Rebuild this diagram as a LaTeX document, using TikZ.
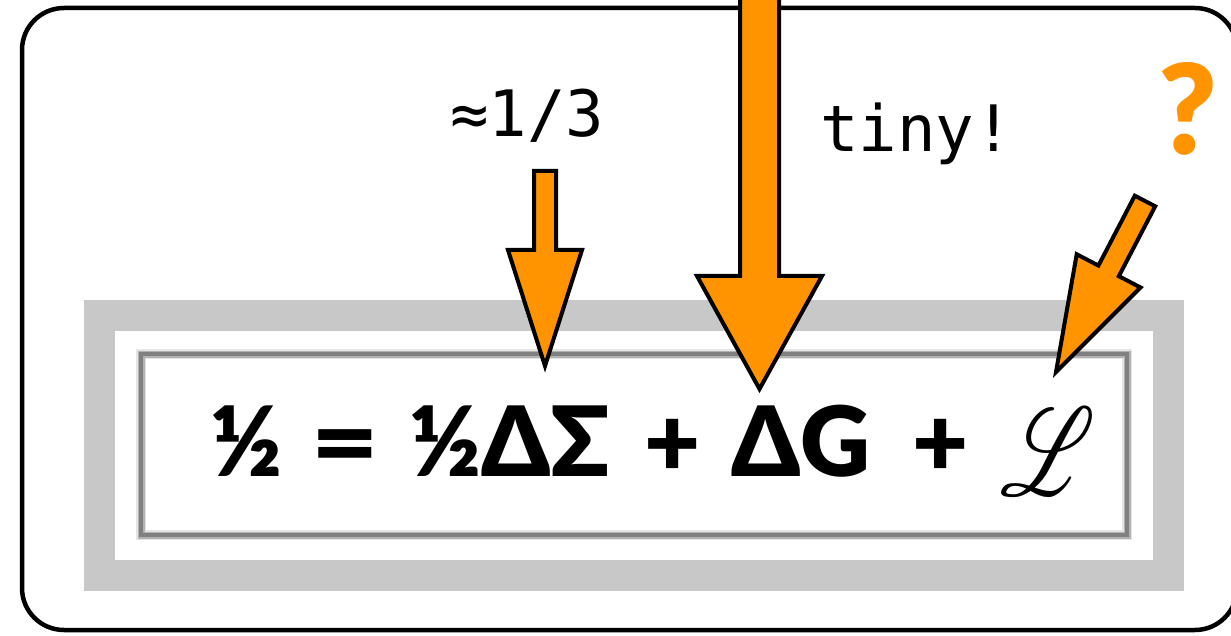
\documentclass[tikz,border=0pt]{standalone}
\usepackage{fontspec}
\usepackage{mathrsfs}
\usepackage{tikz}
\usetikzlibrary{calc}
\setmainfont{Lato}
\newfontfamily\eqfont{Lato Black}
\newfontfamily\notefont{DejaVu Sans Mono}
\definecolor{hotorange}{HTML}{FF9300}
\definecolor{framegray}{HTML}{C8C8C8}
% #1 name, #2 tail, #3 tip, #4 half shaft, #5 half head, #6 head length
\newcommand{\blockarrow}[6]{%
  \coordinate (#1-base) at ($(#3)!#6!(#2)$);
  \draw[fatarrow] ($(#2)!#4!90:(#3)$) -- ($(#1-base)!#4!90:(#3)$) -- ($(#1-base)!#5!90:(#3)$)
    -- (#3) -- ($(#1-base)!#5!-90:(#3)$) -- ($(#1-base)!#4!-90:(#3)$) -- ($(#2)!#4!-90:(#3)$) -- cycle;}
\tikzset{
  fatarrow/.style = {fill=hotorange, draw=black, line width=4pt, line join=miter},
  eqn/.style      = {font=\eqfont\fontsize{97}{100}\selectfont, inner sep=0pt, anchor=base west},
  lagr/.style     = {xscale=8.9, yscale=12.5, inner sep=0pt, anchor=base west},
  remark/.style   = {font=\notefont\fontsize{64}{70}\selectfont, inner sep=0pt, anchor=base west},
  query/.style    = {font=\eqfont\fontsize{125}{130}\selectfont, text=hotorange, inner sep=0pt, anchor=base west},
}

\begin{document}
\begin{tikzpicture}[x=1pt, y=-1pt]
  \useasboundingbox (0,0) rectangle (1231,636);
  \draw[line width=4.5pt, rounded corners=42pt] (22,8) rectangle (1237,630);
  \draw[framegray, line width=31pt] (99,315) rectangle (1168,575);
  \draw[black!10, line width=10pt] (141,354) rectangle (1127,535);
  \draw[black!30, line width=7pt] (141,354) rectangle (1127,535);
  \draw[black!50, line width=3.5pt] (141,354) rectangle (1127,535);

  \node[eqn] (lhs) at (210,476) {½};
  \node[eqn, xscale=1.2] (equals) at (311,476) {=};
  \node[eqn] (spin) at (409,476) {½ΔΣ};
  \node[eqn] (plusa) at (644,476) {+};
  \node[eqn] (gluon) at (731,476) {ΔG};
  \node[eqn] (plusb) at (912,476) {+};
  \node[lagr] (orbit) at (999,495) {$\mathscr{L}$};
  \node[remark] (third) at (450,137) {≈1/3};
  \node[remark] (small) at (820,152) {tiny!};
  \node[query] (unknown) at (1158,155) {?};

  \coordinate (sigtail) at (545,171);
  \coordinate (sigtip) at (545,366);
  \coordinate (gluetail) at (759.5,-20);
  \coordinate (gluetip) at (759.5,389);
  \coordinate (orbtail) at (1145,201);
  \coordinate (orbtip) at (1056,372);
  \blockarrow{sig}{sigtail}{sigtip}{11pt}{37pt}{116pt}
  \blockarrow{glue}{gluetail}{gluetip}{19.5pt}{62.5pt}{113pt}
  \blockarrow{orb}{orbtail}{orbtip}{11.5pt}{36pt}{114pt}
\end{tikzpicture}
\end{document}
